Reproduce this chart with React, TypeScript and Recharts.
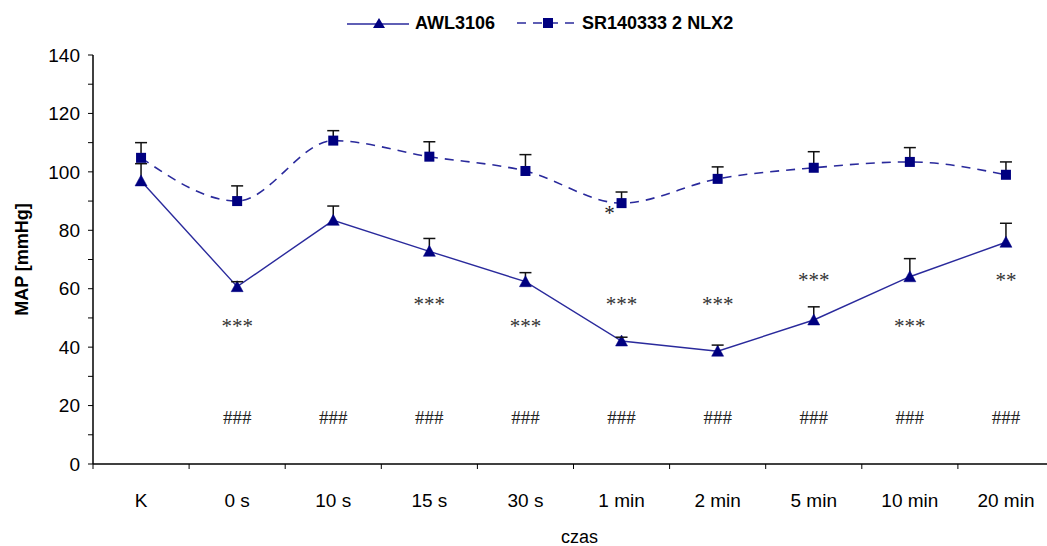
import React from "react";
import {
  LineChart,
  Line,
  XAxis,
  YAxis,
  ErrorBar,
  Legend,
  LabelList,
  Label,
} from "recharts";

const categories = ["K", "0 s", "10 s", "15 s", "30 s", "1 min", "2 min", "5 min", "10 min", "20 min"];
const awlValues = [96.9, 60.7, 83.4, 72.8, 62.4, 42.1, 38.6, 49.3, 64.1, 75.9];
const awlErrors = [5.9, 1.7, 4.9, 4.4, 3.1, 1.3, 2.1, 4.5, 6.2, 6.5];
const srValues = [104.8, 90, 110.7, 105.2, 100.3, 89.3, 97.6, 101.4, 103.4, 99];
const srErrors = [5.2, 5.2, 3.4, 5.1, 5.6, 3.8, 4.1, 5.5, 4.9, 4.4];

const awlMarks = ["", "***", "", "***", "***", "***", "***", "***", "***", "**"];
const awlMarkLevels = [null, 48, null, 55.5, 48, 55.5, 55.5, 63.8, 48, 63.8];
const srMarks = ["", "", "", "", "", "*", "", "", "", ""];
const srMarkLevels = [null, null, null, null, null, 86.6, null, null, null, null];
const hashMarks = ["", "###", "###", "###", "###", "###", "###", "###", "###", "###"];
const hashLevels = [null, 16, 16, 16, 16, 16, 16, 16, 16, 16];

const yTicks = [0, 10, 20, 30, 40, 50, 60, 70, 80, 90, 100, 110, 120, 130, 140];
const seriesNames = ["AWL3106", "SR140333 2 NLX2"];

const data = categories.map((c, i) => ({
  cat: c,
  awl: awlValues[i],
  awlErr: [0, awlErrors[i]],
  awlTop: awlValues[i] + awlErrors[i],
  sr: srValues[i],
  srErr: [0, srErrors[i]],
  srTop: srValues[i] + srErrors[i],
  awlMark: awlMarks[i],
  awlMarkY: awlMarkLevels[i],
  srMark: srMarks[i],
  srMarkY: srMarkLevels[i],
  hash: hashMarks[i],
  hashY: hashLevels[i],
}));

const FONT = "'Liberation Sans', Arial, sans-serif";
const SERIF = "'Liberation Serif', 'Times New Roman', serif";
const CHART_W = 1054;
const CHART_H = 546;
const Y_AXIS_W = 93;
const BAND = (CHART_W - Y_AXIS_W) / categories.length;
const MARKER = "#000080";
const LINE = "#2a2a9c";

const Triangle = (props: any) => {
  const { cx, cy, index } = props;
  if (cx == null || cy == null) return <g key={`t${index}`} />;
  return (
    <path
      key={`t${index}`}
      d={`M${cx},${cy - 6} L${cx + 6},${cy + 5} L${cx - 6},${cy + 5} Z`}
      fill={MARKER}
      stroke={MARKER}
      strokeWidth={0.5}
    />
  );
};

const Square = (props: any) => {
  const { cx, cy, index } = props;
  if (cx == null || cy == null) return <g key={`s${index}`} />;
  return <rect key={`s${index}`} x={cx - 5} y={cy - 5} width={10} height={10} fill={MARKER} />;
};

const Cap = (props: any) => {
  const { cx, cy, index } = props;
  if (cx == null || cy == null) return <g key={`c${index}`} />;
  return (
    <line key={`c${index}`} x1={cx - 6} x2={cx + 6} y1={cy} y2={cy} stroke="#111" strokeWidth={1.5} />
  );
};

const XTick = (props: any) => {
  const { x, y, payload, index } = props;
  return (
    <g>
      {index === 0 && (
        <line x1={x - BAND / 2} x2={x - BAND / 2} y1={y} y2={y + 5} stroke="#000" />
      )}
      <line x1={x + BAND / 2} x2={x + BAND / 2} y1={y} y2={y + 5} stroke="#000" />
      <text x={x} y={y + 43} textAnchor="middle" fontFamily={FONT} fontSize={19} fill="#000">
        {payload.value}
      </text>
    </g>
  );
};

const LegendContent = () => (
  <div
    style={{
      display: "flex",
      alignItems: "center",
      height: 30,
      fontFamily: FONT,
      fontWeight: "bold",
      fontSize: 18,
      color: "#000",
      whiteSpace: "nowrap",
    }}
  >
    <svg width={62} height={14}>
      <line x1={0} y1={8} x2={62} y2={8} stroke={LINE} strokeWidth={1.5} />
      <path d="M32,2 L38,12 L26,12 Z" fill={MARKER} />
    </svg>
    <span style={{ marginLeft: 6 }}>{seriesNames[0]}</span>
    <svg width={60} height={14} style={{ marginLeft: 22 }}>
      <line x1={0} y1={7} x2={60} y2={7} stroke={LINE} strokeWidth={1.5} strokeDasharray="9 7" />
      <rect x={26} y={2} width={10} height={10} fill={MARKER} />
    </svg>
    <span style={{ marginLeft: 5 }}>{seriesNames[1]}</span>
  </div>
);

export default function App() {
  return (
    <div
      style={{
        position: "absolute",
        left: 0,
        top: 0,
        width: 1047,
        height: 546,
        overflow: "hidden",
        background: "#fff",
      }}
    >
      <LineChart
        width={CHART_W}
        height={CHART_H}
        data={data}
        margin={{ top: 25, right: 0, bottom: 0, left: 0 }}
      >
        <Legend
          verticalAlign="top"
          content={<LegendContent />}
          wrapperStyle={{ top: 8, left: 347, width: "auto" }}
        />
        <XAxis
          dataKey="cat"
          scale="band"
          height={82}
          interval={0}
          tickLine={false}
          tickSize={0}
          tickMargin={0}
          tick={<XTick />}
          axisLine={{ stroke: "#000", strokeWidth: 1.5 }}
        >
          <Label
            value="czas"
            position="insideBottom"
            offset={3}
            dx={6}
            style={{ fontFamily: FONT, fontSize: 18, fill: "#000" }}
          />
        </XAxis>
        <YAxis
          width={Y_AXIS_W}
          domain={[0, 140]}
          ticks={yTicks}
          interval={0}
          tickSize={5}
          tickMargin={8}
          tickFormatter={(v: number) => (v % 20 === 0 ? String(v) : "")}
          tick={{ fontFamily: FONT, fontSize: 19, fill: "#000" }}
          tickLine={{ stroke: "#000" }}
          axisLine={{ stroke: "#000", strokeWidth: 1.5 }}
        >
          <Label
            value="MAP [mmHg]"
            angle={-90}
            position="insideLeft"
            offset={22}
            style={{ fontFamily: FONT, fontSize: 18, fontWeight: "bold", fill: "#000", textAnchor: "middle" }}
          />
        </YAxis>

        <Line
          dataKey="sr"
          type="monotone"
          stroke={LINE}
          strokeWidth={1.6}
          strokeDasharray="9 7"
          dot={<Square />}
          activeDot={false}
          isAnimationActive={false}
        >
          <ErrorBar dataKey="srErr" direction="y" width={0} stroke="#111" strokeWidth={1.5} />
        </Line>
        <Line
          dataKey="awl"
          type="linear"
          stroke={LINE}
          strokeWidth={1.4}
          dot={<Triangle />}
          activeDot={false}
          isAnimationActive={false}
        >
          <ErrorBar dataKey="awlErr" direction="y" width={0} stroke="#111" strokeWidth={1.5} />
        </Line>
        <Line dataKey="srTop" stroke="none" dot={<Cap />} activeDot={false} isAnimationActive={false} legendType="none" />
        <Line dataKey="awlTop" stroke="none" dot={<Cap />} activeDot={false} isAnimationActive={false} legendType="none" />

        <Line dataKey="awlMarkY" stroke="none" dot={false} activeDot={false} isAnimationActive={false} legendType="none">
          <LabelList
            dataKey="awlMark"
            position="center"
            dy={2}
            style={{ fontFamily: SERIF, fontSize: 21, fill: "#333" }}
          />
        </Line>
        <Line dataKey="srMarkY" stroke="none" dot={false} activeDot={false} isAnimationActive={false} legendType="none">
          <LabelList
            dataKey="srMark"
            position="center"
            dx={-12}
            dy={2}
            style={{ fontFamily: SERIF, fontSize: 21, fill: "#222" }}
          />
        </Line>
        <Line dataKey="hashY" stroke="none" dot={false} activeDot={false} isAnimationActive={false} legendType="none">
          <LabelList
            dataKey="hash"
            position="center"
            style={{ fontFamily: SERIF, fontSize: 19, fill: "#222" }}
          />
        </Line>
      </LineChart>
    </div>
  );
}
